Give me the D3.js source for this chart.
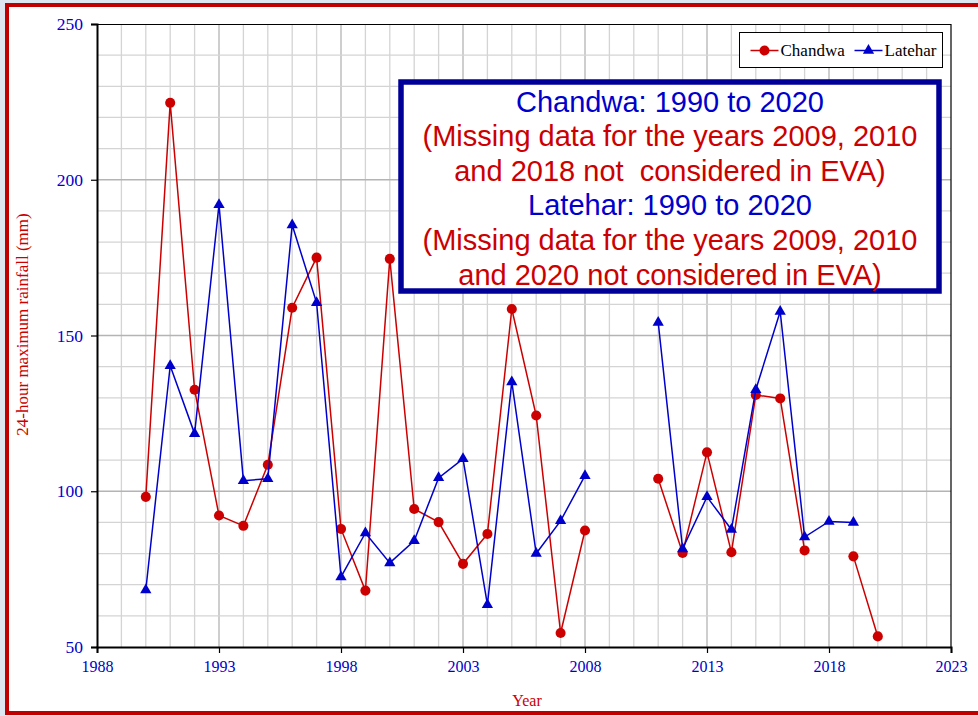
<!DOCTYPE html>
<html>
<head>
<meta charset="utf-8">
<script src="https://cdn.jsdelivr.net/npm/d3@7"></script>
<style>
  body { margin: 0; background: #dde7f2; }
  svg { display: block; }
</style>
</head>
<body>
<svg id="chart" width="978" height="716"></svg>
<script>
// years 1990..2020, null = missing
const years = d3.range(1990, 2021);
const chandwa = [98.2, 224.7, 132.6, 92.2, 88.9, 108.5, 158.9, 175.0, 87.9, 68.1,
                 174.6, 94.3, 90.1, 76.7, 86.3, 158.5, 124.3, 54.5, 87.4, null,
                 null, 104.0, 80.2, 112.5, 80.4, 130.9, 129.8, 81.0, null, 79.1, 53.4];
const latehar = [68.3, 140.3, 118.5, 192.0, 103.4, 104.0, 185.5, 160.5, 72.5, 86.6,
                 77.0, 84.1, 104.3, 110.4, 63.6, 135.1, 80.0, 90.5, 105.0, null,
                 null, 154.2, 81.5, 98.2, 87.7, 132.6, 157.7, 85.3, 90.3, 90.0, null];
const xTicks = [1988, 1993, 1998, 2003, 2008, 2013, 2018, 2023];
const yTicks = [50, 100, 150, 200, 250];
const noteLines = [
  {text: "Chandwa: 1990 to 2020", color: "#0000cc"},
  {text: "(Missing data for the years 2009, 2010", color: "#cc0000"},
  {text: "and 2018 not  considered in EVA)", color: "#cc0000"},
  {text: "Latehar: 1990 to 2020", color: "#0000cc"},
  {text: "(Missing data for the years 2009, 2010", color: "#cc0000"},
  {text: "and 2020 not considered in EVA)", color: "#cc0000"}
];

const red = "#cc0000", blue = "#0000cc";
const serif = "'Liberation Serif', 'Times New Roman', serif";
const sans = "'Liberation Sans', Arial, sans-serif";

const svg = d3.select("#chart");
const m = {top: 24, left: 97, right: 27, bottom: 69};
const W = +svg.attr("width"), H = +svg.attr("height");
const iw = W - m.left - m.right, ih = H - m.top - m.bottom;

// outer frame
svg.append("rect")
    .attr("x", 7).attr("y", 5).attr("width", 990).attr("height", 708)
    .attr("fill", "#fff").attr("stroke", "#c00000").attr("stroke-width", 4);

const x = d3.scaleLinear().domain([1988, 2023]).range([0, iw]);
const y = d3.scaleLinear().domain([50, 250]).range([ih, 0]);

const g = svg.append("g")
      .attr("transform", `translate(${m.left}, ${m.top})`);

// grid: every year, every 10 mm
g.append("g").selectAll("line").data(d3.range(1989, 2023))
    .enter().append("line")
    .attr("x1", d => x(d)).attr("x2", d => x(d))
    .attr("y1", 0).attr("y2", ih)
    .attr("stroke", d => d % 5 == 3 ? "#b4b4b4" : "#d4d4d4")
    .attr("stroke-width", 1.3);
g.append("g").selectAll("line").data(d3.range(60, 250, 10))
    .enter().append("line")
    .attr("x1", 0).attr("x2", iw)
    .attr("y1", d => y(d)).attr("y2", d => y(d))
    .attr("stroke", d => d % 50 == 0 ? "#b4b4b4" : "#d4d4d4")
    .attr("stroke-width", 1.3);

// top / right frame
g.append("path")
    .attr("d", `M0,0.5H${iw}V${ih}`)
    .attr("fill", "none").attr("stroke", "#000").attr("stroke-width", 1.2);

const xAxis = d3.axisBottom(x).tickValues(xTicks).tickFormat(d3.format("d"))
      .tickSize(6).tickPadding(8);
const yAxis = d3.axisLeft(y).tickValues(yTicks).tickSize(6).tickPadding(8);

const styleAxis = (sel, fs) => {
    sel.select(".domain").attr("stroke", "#000").attr("stroke-width", 2);
    sel.selectAll(".tick line").attr("stroke", "#000").attr("stroke-width", 1.2);
    sel.selectAll("text").attr("fill", blue)
        .style("font-family", serif).style("font-size", fs);
};

g.append("g").attr("transform", `translate(0, ${ih})`)
    .call(xAxis).call(styleAxis, "16px");
g.append("g").call(yAxis).call(styleAxis, "17.5px");

// axis titles
g.append("text")
    .attr("x", iw / 2 + 3).attr("y", ih + 59)
    .attr("text-anchor", "middle")
    .attr("fill", red).style("font-family", serif).style("font-size", "16px")
    .text("Year");
g.append("text")
    .attr("transform", `translate(-69, ${ih / 2 - 11}) rotate(-90)`)
    .attr("text-anchor", "middle")
    .attr("fill", red).style("font-family", serif).style("font-size", "17px")
    .text("24-hour maximum rainfall (mm)");

// series
const series = [
    {name: "Chandwa", values: chandwa, color: red, shape: d3.symbolCircle, size: 80},
    {name: "Latehar", values: latehar, color: blue, shape: d3.symbolTriangle, size: 55}
];

const line = d3.line()
      .defined(d => d.v != null)
      .x(d => x(d.year))
      .y(d => y(d.v));

series.forEach(s => {
    const pts = years.map((yr, i) => ({year: yr, v: s.values[i]}));
    g.append("path")
        .attr("d", line(pts))
        .attr("fill", "none")
        .attr("stroke", s.color)
        .attr("stroke-width", 1.5);
    g.append("g").selectAll("path").data(pts.filter(d => d.v != null))
        .enter().append("path")
        .attr("transform", d => `translate(${x(d.year)}, ${y(d.v)})`)
        .attr("d", d3.symbol().type(s.shape).size(s.size))
        .attr("fill", s.color);
});

// legend
const leg = svg.append("g").attr("transform", "translate(739.5, 32.5)");
leg.append("rect")
    .attr("width", 203).attr("height", 35)
    .attr("fill", "#fff").attr("stroke", "#000").attr("stroke-width", 1);
series.forEach((s, i) => {
    const lx = 11 + i * 104;
    leg.append("line")
        .attr("x1", lx).attr("x2", lx + 28).attr("y1", 18).attr("y2", 18)
        .attr("stroke", s.color).attr("stroke-width", 1.5);
    leg.append("path")
        .attr("transform", `translate(${lx + 14}, 18)`)
        .attr("d", d3.symbol().type(s.shape).size(s.size))
        .attr("fill", s.color);
    leg.append("text")
        .attr("x", lx + 30).attr("y", 23.5)
        .style("font-family", serif).style("font-size", "17px")
        .text(s.name);
});

// note box
const note = svg.append("g").attr("transform", "translate(401, 82)");
note.append("rect")
    .attr("width", 538).attr("height", 209)
    .attr("fill", "#fff").attr("stroke", "#000099").attr("stroke-width", 5.5);
note.selectAll("text").data(noteLines)
    .enter().append("text")
    .attr("x", 269)
    .attr("y", (d, i) => 29.5 + i * 34.6)
    .attr("text-anchor", "middle")
    .attr("fill", d => d.color)
    .style("font-family", sans).style("font-size", "29px")
    .style("white-space", "pre")
    .text(d => d.text);
</script>
</body>
</html>
